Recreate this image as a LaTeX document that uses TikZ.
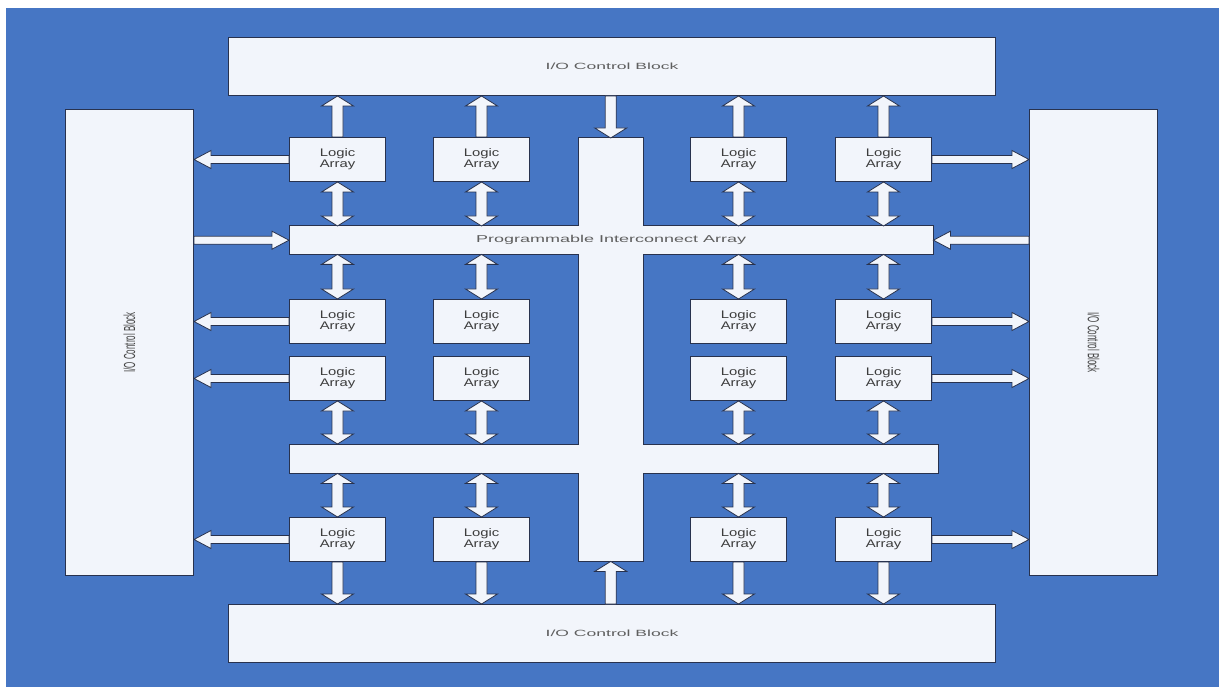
\documentclass[tikz,border=0pt]{standalone}
\usepackage{fontspec}
\setmainfont{Liberation Sans}
\usetikzlibrary{calc,backgrounds}

\definecolor{bgblue}{RGB}{70,118,196}
\definecolor{boxfill}{RGB}{242,245,251}
\definecolor{edge}{RGB}{40,50,78}
\definecolor{labeltext}{RGB}{60,60,60}
\definecolor{iotext}{RGB}{95,95,95}
\definecolor{sidetext}{RGB}{70,70,70}

% horizontally stretched text
\newcommand\hstretch[2]{\scalebox{#1}[1]{#2}}

% block arrow with one head: from #1 to #2, half shaft #3, half head #4, head length #5
\newcommand\onearrow[5]{%
  \path (#1) coordinate (ba-a) (#2) coordinate (ba-b);
  \path ($(ba-b)!#5!(ba-a)$) coordinate (ba-c);
  \draw[blockarrow] ($(ba-a)!#3!90:(ba-b)$) -- ($(ba-c)!#3!90:(ba-b)$)
    -- ($(ba-c)!#4!90:(ba-b)$) -- (ba-b) -- ($(ba-c)!#4!-90:(ba-b)$)
    -- ($(ba-c)!#3!-90:(ba-b)$) -- ($(ba-a)!#3!-90:(ba-b)$) -- cycle;
}
% block arrow with a head at both ends
\newcommand\twoarrow[5]{%
  \path (#1) coordinate (ba-a) (#2) coordinate (ba-b);
  \path ($(ba-b)!#5!(ba-a)$) coordinate (ba-c) ($(ba-a)!#5!(ba-b)$) coordinate (ba-d);
  \draw[blockarrow] (ba-a) -- ($(ba-d)!#4!90:(ba-b)$) -- ($(ba-d)!#3!90:(ba-b)$)
    -- ($(ba-c)!#3!90:(ba-b)$) -- ($(ba-c)!#4!90:(ba-b)$) -- (ba-b)
    -- ($(ba-c)!#4!-90:(ba-b)$) -- ($(ba-c)!#3!-90:(ba-b)$)
    -- ($(ba-d)!#3!-90:(ba-b)$) -- ($(ba-d)!#4!-90:(ba-b)$) -- cycle;
}
\newcommand\vone[2]{\onearrow{#1}{#2}{5.5pt}{16pt}{10pt}}
\newcommand\vtwo[2]{\twoarrow{#1}{#2}{5.5pt}{16pt}{10pt}}
\newcommand\hone[2]{\onearrow{#1}{#2}{4pt}{9pt}{17pt}}

\begin{document}
\begin{tikzpicture}[x=1pt,y=-1pt,
  box/.style={draw=edge, fill=boxfill, line width=1pt, line join=miter},
  iobox/.style={box, inner sep=0pt, anchor=north west, text=iotext},
  logicbox/.style={box, inner sep=0pt, anchor=north west, text=labeltext,
    minimum width=96pt, minimum height=44pt, align=center,
    font=\fontsize{11}{11}\selectfont},
  barnode/.style={inner sep=0pt, anchor=north west, text=iotext},
  blockarrow/.style={draw=edge, fill=boxfill, line width=0.8pt, line join=miter}]

\useasboundingbox (0,0) rectangle (1219,687);
\begin{scope}[on background layer]
  \fill[white] (0,0) rectangle (1219,687);
  \fill[bgblue] (6,8) rectangle (1219,687);
\end{scope}

% I/O control blocks
\node[iobox, minimum width=767pt, minimum height=58pt] (top) at (228,37)
  {\fontsize{9}{10}\selectfont\hstretch{1.95}{I/O Control Block}};
\node[iobox, minimum width=767pt, minimum height=58pt] (bot) at (228,604)
  {\fontsize{9}{10}\selectfont\hstretch{1.95}{I/O Control Block}};
\node[iobox, minimum width=128pt, minimum height=466pt, text=sidetext] (left) at (65,109)
  {\rotatebox{90}{\hstretch{0.5}{\fontsize{16}{18}\selectfont I/O Control Block}}};
\node[iobox, minimum width=128pt, minimum height=466pt, text=sidetext] (right) at (1029,109)
  {\rotatebox{-90}{\hstretch{0.5}{\fontsize{16}{18}\selectfont I/O Control Block}}};

% interconnect array: two horizontal bars joined by a vertical spine
\node[barnode, minimum width=644pt, minimum height=28pt] (bar1) at (289,226)
  {\fontsize{10}{12}\selectfont\hstretch{1.8}{Programmable Interconnect Array}};
\node[barnode, minimum width=649pt, minimum height=29pt] (bar2) at (289,444) {};
\node[barnode, minimum width=65pt, minimum height=423pt] (vbar) at (578,138) {};
\begin{scope}[on background layer]
  \draw[box] (vbar.north west) -- (vbar.north east) -- (vbar.east |- bar1.north)
    -- (bar1.north east) -- (bar1.south east) -- (vbar.east |- bar1.south)
    -- (vbar.east |- bar2.north) -- (bar2.north east) -- (bar2.south east)
    -- (vbar.east |- bar2.south) -- (vbar.south east) -- (vbar.south west)
    -- (vbar.west |- bar2.south) -- (bar2.south west) -- (bar2.north west)
    -- (vbar.west |- bar2.north) -- (vbar.west |- bar1.south) -- (bar1.south west)
    -- (bar1.north west) -- (vbar.west |- bar1.north) -- cycle;
\end{scope}

% logic arrays: rows 1-4, columns 1-4
\foreach \r/\y in {1/137, 2/299, 3/356, 4/517}
  \foreach \c/\x in {1/289, 2/433, 3/690, 4/835}
    \node[logicbox] (la\r\c) at (\x,\y)
      {\hstretch{1.35}{Logic}\\\hstretch{1.35}{Array}};

% vertical connections
\foreach \c in {1,2,3,4} {
  \vone{la1\c.north}{la1\c.north |- top.south}
  \vtwo{la1\c.south}{la1\c.south |- bar1.north}
  \vtwo{la2\c.north |- bar1.south}{la2\c.north}
  \vtwo{la3\c.south}{la3\c.south |- bar2.north}
  \vtwo{la4\c.north |- bar2.south}{la4\c.north}
  \vone{la4\c.south}{la4\c.south |- bot.north}
}
\vone{vbar.north |- top.south}{vbar.north}
\vone{vbar.south |- bot.north}{vbar.south}

% horizontal connections
\foreach \r in {1,2,3,4} {
  \hone{la\r1.west}{la\r1.west -| left.east}
  \hone{la\r4.east}{la\r4.east -| right.west}
}
\hone{left.east |- bar1.west}{bar1.west}
\hone{right.west |- bar1.east}{bar1.east}

\end{tikzpicture}
\end{document}
